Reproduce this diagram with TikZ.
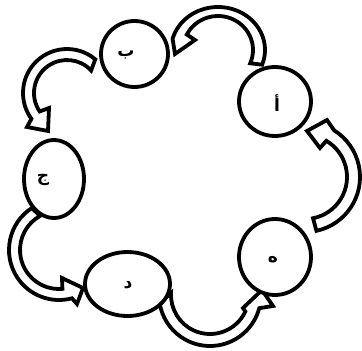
\documentclass[tikz,border=0pt]{standalone}
\usepackage{fontspec}
\newfontfamily\arabicfont[Script=Arabic]{DejaVu Sans}
\TeXXeTstate=1
\usetikzlibrary{shapes.geometric,calc}
\begin{document}
\begin{tikzpicture}[x=1pt,y=1pt,yscale=-1,
  bubble/.style={ellipse,draw=black,line width=3.8pt,fill=white,inner sep=0pt},
  barrow/.style={draw=black,fill=white,line width=3.8pt,line join=miter,miter limit=4},
  lbl/.style={font=\arabicfont\bfseries\fontsize{17}{17}\selectfont}]
\path[fill=white] (0,0) rectangle (362,351);
\useasboundingbox (0,0) rectangle (362,351);

% block arrows
% a -> b
\draw[barrow] ($(218,50)+(20:47 and 43)$) arc[start angle=20,end angle=-165,x radius=47,y radius=43]
  -- (175,54) -- (195,40) -- ($(218,50)+(-153:35 and 34)$)
  arc[start angle=-153,end angle=23,x radius=35,y radius=34] -- cycle;
% b -> j
\draw[barrow] ($(67,93)+(-50:44)$) arc[start angle=-50,end angle=-216,radius=44]
  -- (27,127) -- (48,131) -- (49,108) -- ($(67,93)+(-214:33)$)
  arc[start angle=-214,end angle=-43,radius=33] -- cycle;
% j -> d
\draw[barrow] ($(59,250)+(237:50)$) arc[start angle=237,end angle=75,radius=50]
  -- (77,304) -- (83,288) -- (62,278) -- ($(59,250)+(85:39)$)
  arc[start angle=85,end angle=241,radius=39] -- cycle;
% d -> h
\draw[barrow] ($(210,295)+(171:51)$) arc[start angle=171,end angle=15,radius=51]
  -- (273,306) -- (262,290) -- (243,308) -- ($(210,295)+(25:39)$)
  arc[start angle=25,end angle=183,radius=39] -- cycle;
% h -> a
\draw[barrow] ($(305,177)+(78:55)$) arc[start angle=78,end angle=-58,radius=55]
  -- (327,120) -- (307,131) -- (320,148) -- ($(305,177)+(-59.5:42)$)
  arc[start angle=-59.5,end angle=79,radius=42] -- cycle;

% circles
\node[bubble,minimum width=67pt,minimum height=66pt] (b) at (134.5,54) {};
\node[bubble,minimum width=72pt,minimum height=69pt] (a) at (275,101.5) {};
\node[bubble,minimum width=60pt,minimum height=78pt] (j) at (54,179) {};
\node[bubble,minimum width=85pt,minimum height=64pt] (d) at (127.5,284) {};
\node[bubble,minimum width=72pt,minimum height=76pt] (h) at (275,257) {};

% labels
\node[lbl] (tb) at (126,55) {\beginR ب\endR};
\node[lbl] (ta) at (277,103) {\beginR أ\endR};
\node[lbl] (tj) at (43,180) {\beginR ج\endR};
\node[lbl] (td) at (128,285) {\beginR د\endR};
\node[lbl] (th) at (273,260) {\beginR ه\endR};
\end{tikzpicture}
\end{document}
